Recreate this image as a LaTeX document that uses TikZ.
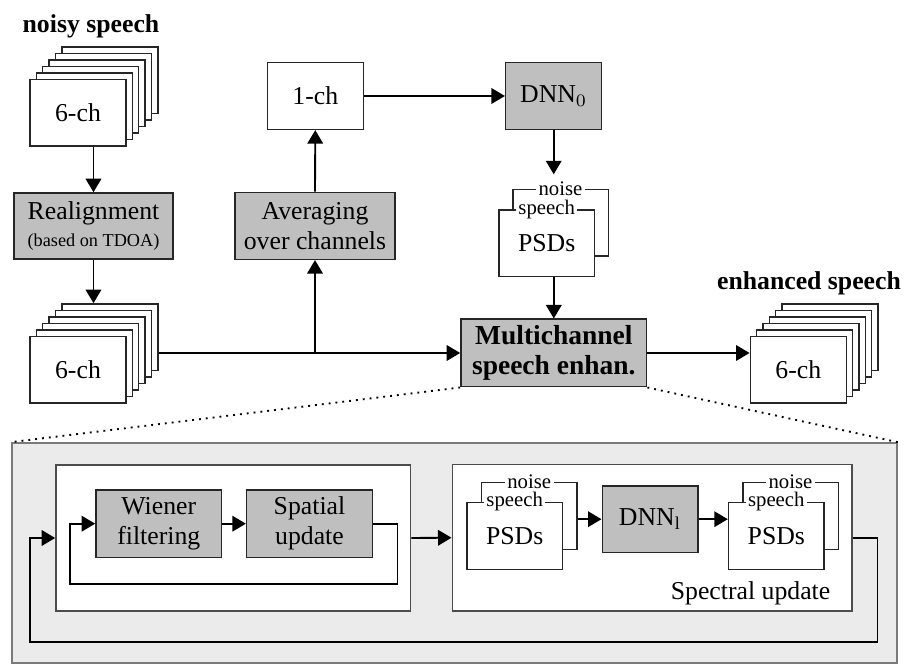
\documentclass[tikz,border=0pt]{standalone}
\usepackage{fontspec}
\setmainfont{Liberation Serif}
\usepackage{xcolor}
\usetikzlibrary{arrows.meta,positioning,calc}
\definecolor{boxGray}{HTML}{BFBFBF}
\definecolor{zoomGray}{HTML}{EBEBEB}
\definecolor{frameGray}{HTML}{7A7A7A}

\begin{document}
\begin{tikzpicture}[
    x=0.4pt, y=-0.4pt,
    font=\fontsize{10.3}{12}\selectfont,
    plain/.style={
        rectangle,
        draw=black!85,
        line width=0.6pt,
        fill=white,
        inner sep=0pt,
        align=center
    },
    procbox/.style={
        plain,
        fill=boxGray
    },
    chbox/.style={
        plain,
        minimum width=38.4pt,
        minimum height=26.7pt
    },
    psdbox/.style={
        plain,
        minimum width=38.2pt,
        minimum height=26.7pt
    },
    tag/.style={
        font=\fontsize{8.3}{9}\selectfont,
        fill=white,
        inner sep=1pt
    },
    frame/.style={
        rectangle,
        draw=black!70,
        line width=0.6pt,
        fill=white
    },
    title/.style={
        font=\fontsize{10.3}{12}\selectfont\bfseries
    },
    flow/.style={
        -{Triangle[length=5.4pt,width=6.2pt]},
        line width=0.75pt
    }
]
\useasboundingbox (0,0) rectangle (905,664);

% -------------------- Input: noisy 6-ch -------------------------
\node[title, anchor=base] (noisy) at (91,33) {noisy speech};
\foreach \k in {5,4,...,1}
  \node[chbox] (in-\k) at (78+6.35*\k, 112.7-6.5*\k) {};
\node[chbox] (in-0) at (78,112.7) {6-ch};

\node[procbox, minimum width=63.6pt, minimum height=26.4pt] (realign) at (93.5,226)
  {Realignment\\[-1pt]{\fontsize{7.3}{8}\selectfont (based on TDOA)}};

% aligned 6-ch
\foreach \k in {5,4,...,1}
  \node[chbox] (al-\k) at (78+6.35*\k, 369.8-6.5*\k) {};
\node[chbox] (al-0) at (78,369.8) {6-ch};

% -------------------- Single channel branch ----------------------
\node[procbox, minimum width=64pt, minimum height=26.8pt] (avg) at (315,225.8)
  {Averaging\\over channels};
\node[chbox] (onech) at (315.3,96) {1-ch};
\node[procbox, minimum width=38.4pt, minimum height=26.7pt] (dnn0) at (553.7,96) {DNN$_0$};

% PSDs from DNN_0
\node[psdbox] (psdA-b) at (560.5,222.7) {};
\node[tag] (psdA-n) at (psdA-b.north) {noise};
\node[psdbox] (psdA-f) at (546.7,243.3) {PSDs};
\node[tag] (psdA-s) at (psdA-f.north) {speech};

% -------------------- Enhancement ------------------------------
\node[procbox, minimum width=74.3pt, minimum height=27pt,
  font=\fontsize{11}{12}\selectfont\bfseries] (multi) at (553.8,353)
  {Multichannel\\speech enhan.};

\node[title, anchor=base] (enhanced) at (809,290) {enhanced speech};
\foreach \k in {5,4,...,1}
  \node[chbox] (out-\k) at (798.3+6.35*\k, 369.7-6.5*\k) {};
\node[chbox] (out-0) at (798.3,369.7) {6-ch};

% -------------------- Flows ---------------------------------
\draw[flow] (realign.north |- in-0.south) -- (realign.north);
\draw[flow] (realign.south) -- (realign.south |- al-5.north);
\draw[flow] (al-5.east |- multi.west) -- (multi.west);
\draw[flow] (avg.south |- multi.west) -- (avg.south);
\draw[flow] (avg.north) -- (onech.south);
\draw[flow] (onech.east) -- (dnn0.west);
\draw[flow, shorten >=5.7pt] (dnn0.south) -- (dnn0.south |- psdA-b.north);
\draw[flow] (multi.north |- psdA-f.south) -- (multi.north);
\draw[flow] (multi.east) -- (multi.east -| out-0.west);

% -------------------- Detail of the enhancement ----------------
\node[rectangle, draw=frameGray, fill=zoomGray, line width=0.9pt,
  minimum width=354pt, minimum height=87.9pt] (detail) at (454.2,553.2) {};
\draw[dotted, line width=0.75pt] (multi.south west) -- (detail.north west);
\draw[dotted, line width=0.75pt] (multi.south east) -- (detail.north east);

% spatial loop
\node[frame, minimum width=141.9pt, minimum height=58.4pt] (spatbox) at (233.3,538) {};
\node[procbox, minimum width=50.3pt, minimum height=26.9pt] (wiener) at (158.8,523.7)
  {Wiener\\filtering};
\node[procbox, minimum width=50.3pt, minimum height=26.9pt] (spatial) at (309.5,523.7)
  {Spatial\\update};

% spectral update
\node[frame, minimum width=159.8pt, minimum height=58.7pt] (specbox) at (652,537.7) {};
\node[psdbox] (psdB-b) at (529.2,516) {};
\node[tag] (psdB-n) at (psdB-b.north) {noise};
\node[psdbox] (psdB-f) at (514.7,536) {PSDs};
\node[tag] (psdB-s) at (psdB-f.north) {speech};
\node[procbox, minimum width=38.2pt, minimum height=26.5pt] (dnnl) at (650,519.2) {DNN$_\mathrm{l}$};
\node[psdbox] (psdC-b) at (790.5,516) {};
\node[tag] (psdC-n) at (psdC-b.north) {noise};
\node[psdbox] (psdC-f) at (776.3,536) {PSDs};
\node[tag] (psdC-s) at (psdC-f.north) {speech};
\node[anchor=base east] (speclabel) at ($(specbox.south east)+(-13.4,-12.7)$) {Spectral update};

\draw[flow] (wiener.east) -- (spatial.west);
\draw[flow] (spatial.east) -| ++(24.4,60.6) -| ($(wiener.west)+(-25.3,0)$) -- (wiener.west);
\draw[flow] (spatbox.east) -- (specbox.west);
\draw[flow] (psdB-b.east |- dnnl.west) -- (dnnl.west);
\draw[flow] (dnnl.east) -- (dnnl.east -| psdC-f.west);
\draw[flow] (specbox.east) -| ++(25,104.6) -| ($(spatbox.west)+(-25.3,0)$) -- (spatbox.west);

\end{tikzpicture}
\end{document}
